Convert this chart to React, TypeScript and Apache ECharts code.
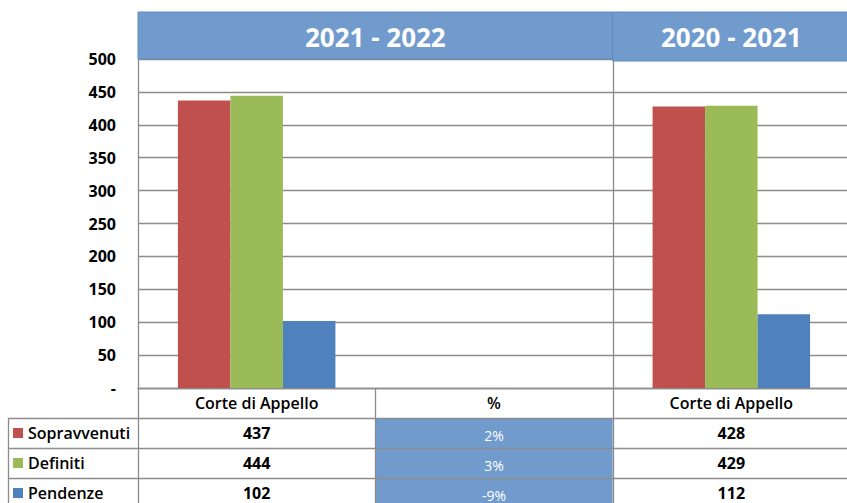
import React, { useEffect, useRef } from "react";
import * as echarts from "echarts";

const categories = ["Corte di Appello", "%", "Corte di Appello"];
const seriesNames = ["Sopravvenuti", "Definiti", "Pendenze"];
const sopravvenuti = [437, null, 428];
const definiti = [444, null, 429];
const pendenze = [102, null, 112];
const percentages = ["2%", "3%", "-9%"];
const periods = ["2021 - 2022", "2020 - 2021"];
const yMin = 0;
const yMax = 500;
const yStep = 50;

const colors = ["#C0504D", "#9BBB59", "#4F81BD"];
const headerBlue = "#719BCD";
const lineGray = "#8C8C8C";
const FONT = "'Open Sans', 'DejaVu Sans', sans-serif";

// layout
const W = 850;
const H = 503;
const gridLeft = 138;
const gridRight = 0;
const gridTop = 59;
const axisY = 388;
const rowH = 30;
const tableLeft = 8;

export default function App() {
  const ref = useRef<HTMLDivElement>(null);
  useEffect(() => {
    if (!ref.current) return;
    const chart = echarts.init(ref.current, undefined, { renderer: "svg" });
    const plotW = W - gridLeft - gridRight;
    const catW = plotW / categories.length;
    const colX = (i: number) => gridLeft + catW * i;
    const colC = (i: number) => gridLeft + catW * (i + 0.5);
    const seriesData = [sopravvenuti, definiti, pendenze];

    const g: any[] = [];
    // header bands
    g.push({
      type: "rect", z: 20,
      shape: { x: colX(0), y: 12, width: colX(2) - colX(0), height: gridTop - 12 },
      style: { fill: headerBlue, stroke: "#5F8AC0", lineWidth: 1 },
    });
    g.push({
      type: "rect", z: 20,
      shape: { x: colX(2), y: 12, width: W - colX(2) + 5, height: gridTop - 10 },
      style: { fill: headerBlue, stroke: "#5F8AC0", lineWidth: 1 },
    });
    g.push({
      type: "text", z: 21, x: (colX(0) + colX(2)) / 2, y: 37,
      style: { text: periods[0], fill: "#fff", font: `bold 26px ${FONT}`, align: "center", verticalAlign: "middle", textAlign: "center", textVerticalAlign: "middle" },
    });
    g.push({
      type: "text", z: 21, x: colC(2), y: 37,
      style: { text: periods[1], fill: "#fff", font: `bold 26px ${FONT}`, align: "center", verticalAlign: "middle", textAlign: "center", textVerticalAlign: "middle" },
    });
    // % cells fill
    g.push({
      type: "rect", z: 5,
      shape: { x: colX(1), y: axisY + rowH, width: catW, height: rowH * 3 + 5 },
      style: { fill: headerBlue },
    });
    // vertical separators
    const vline = (x: number, y1: number, y2: number) =>
      g.push({ type: "line", z: 15, shape: { x1: x, y1, x2: x, y2 }, style: { stroke: lineGray, lineWidth: 1.3 } });
    vline(Math.round(colX(2)) + 0.5, 12, H + 5);
    vline(gridLeft + 0.5, axisY, H + 5);
    vline(Math.round(colX(1)) + 0.5, axisY, H + 5);
    vline(tableLeft + 0.5, axisY + rowH, H + 5);
    // horizontal table lines
    for (let r = 1; r <= 3; r++) {
      const y = axisY + rowH * r + 0.5;
      g.push({ type: "line", z: 15, shape: { x1: tableLeft, y1: y, x2: W + 5, y2: y }, style: { stroke: lineGray, lineWidth: 1.3 } });
    }
    // rows
    seriesNames.forEach((name, r) => {
      const cy = axisY + rowH * (r + 1) + rowH / 2;
      g.push({ type: "rect", z: 16, shape: { x: 13, y: cy - 5, width: 10, height: 10 }, style: { fill: colors[r] } });
      g.push({
        type: "text", z: 16, x: 28, y: cy,
        style: { text: name, fill: "#000", font: `600 16px ${FONT}`, align: "left", verticalAlign: "middle", textAlign: "left", textVerticalAlign: "middle" },
      });
      [0, 2].forEach((c) => {
        g.push({
          type: "text", z: 16, x: colC(c), y: cy,
          style: { text: String(seriesData[r][c]), fill: "#000", font: `bold 16px ${FONT}`, align: "center", verticalAlign: "middle", textAlign: "center", textVerticalAlign: "middle" },
        });
      });
      g.push({
        type: "text", z: 16, x: colC(1), y: cy + 2,
        style: { text: percentages[r], fill: "#fff", font: `14px ${FONT}`, align: "center", verticalAlign: "middle", textAlign: "center", textVerticalAlign: "middle" },
      });
    });

    chart.setOption({
      animation: false,
      backgroundColor: "#fff",
      grid: { left: gridLeft, right: gridRight, top: gridTop, bottom: H - axisY, containLabel: false },
      xAxis: {
        type: "category",
        data: categories,
        axisLine: { show: true, lineStyle: { color: lineGray, width: 1.3 } },
        axisTick: { show: false },
        axisLabel: { color: "#000", fontFamily: FONT, fontSize: 16, fontWeight: 600, margin: 15, verticalAlign: "middle" },
        splitLine: { show: false },
      },
      yAxis: {
        type: "value",
        min: yMin,
        max: yMax,
        interval: yStep,
        axisLine: { show: true, lineStyle: { color: lineGray, width: 1.3 } },
        axisTick: { show: false },
        axisLabel: {
          color: "#000", fontFamily: FONT, fontSize: 16, fontWeight: "bold", margin: 22,
          formatter: (v: number) => (v === 0 ? "-" : String(v)),
        },
        splitLine: { show: true, lineStyle: { color: lineGray, width: 1.3 } },
      },
      series: seriesNames.map((name, i) => ({
        name,
        type: "bar",
        data: seriesData[i],
        barWidth: 52.5,
        barGap: "0%",
        itemStyle: { color: colors[i] },
      })),
      graphic: g,
    });
    return () => chart.dispose();
  }, []);
  return <div ref={ref} style={{ position: "fixed", left: 0, top: 0, width: W, height: H }} />;
}
